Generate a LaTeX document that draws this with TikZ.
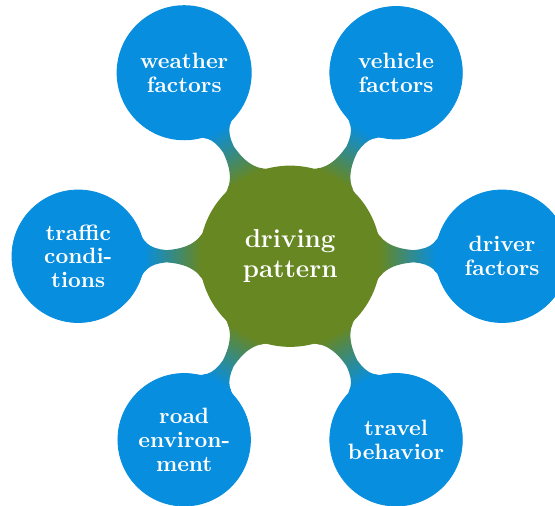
\documentclass[tikz,border=0pt]{standalone}
\usepackage{tikz}
\usetikzlibrary{mindmap,backgrounds}

\definecolor{drvblue}{RGB}{8,142,222}
\definecolor{drvgreen}{RGB}{103,135,35}

\begin{document}
\begin{tikzpicture}[mindmap,text=white,
    rootidea/.style={concept,concept color=drvgreen,minimum size=2.9cm,
      text width=2.2cm,font=\large\bfseries,align=center},
    subidea/.style={concept,concept color=drvblue,minimum size=2.15cm,
      text width=1.6cm,font=\fontsize{10.25}{11}\selectfont\bfseries,align=center}]
  \useasboundingbox (-4.71,-4.04) rectangle (4.30,4.16);
  \node[rootidea] (root) at (0,0) {driving pattern};
  \foreach \a/\n/\t in {120/weather/weather factors,60/vehicle/vehicle factors,
      0/driver/driver factors,-60/travel/travel behavior,
      -120/road/road environment,180/traffic/traffic conditions} {
    \node[subidea] (\n) at (\a:3.44) {\t};
    \begin{pgfonlayer}{background}
      \path (root) to[circle connection bar switch color=from (drvgreen) to (drvblue)] (\n);
    \end{pgfonlayer}
  }
\end{tikzpicture}
\end{document}
